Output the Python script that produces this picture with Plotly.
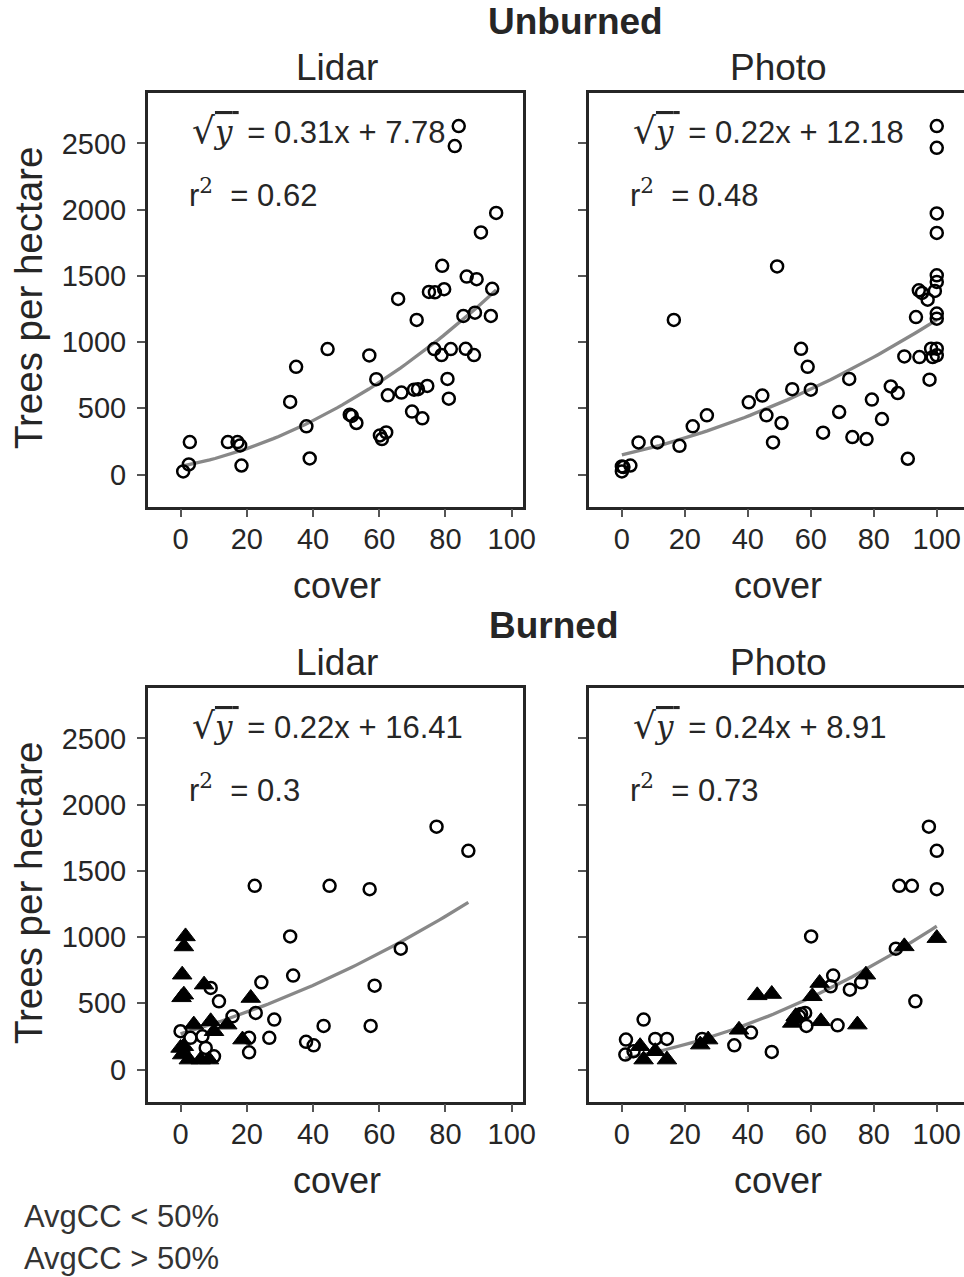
import numpy as np
import plotly.graph_objects as go

# ---------------- data ----------------
# Unburned / Lidar
ul_x = [0.8, 2.5, 2.8, 14.3, 17.2, 18, 18.4, 33.1, 34.9, 38, 39, 44.4, 51.1, 51.7, 53.1, 57, 59.1, 60.2,
        60.8, 62.1, 62.6, 65.7, 66.7, 69.9, 70.5, 71.3, 71.7, 73, 74.5, 75, 76.8, 76.6, 78.8, 79, 79.6,
        80.6, 81, 81.6, 82.8, 84, 85.4, 86.1, 86.4, 88.6, 88.9, 89.4, 90.7, 93.7, 94.1, 95.3]
ul_y = [23, 76, 245, 245, 245, 220, 68, 548, 813, 364, 121, 947, 452, 442, 389, 899, 720, 295,
        268, 318, 598, 1326, 619, 475, 641, 1167, 644, 424, 669, 1379, 1376, 947, 902, 1576, 1399,
        722, 573, 947, 2480, 2631, 1197, 949, 1495, 902, 1222, 1475, 1828, 1197, 1402, 1975]

# Unburned / Photo
up_x = [0, 0, 0.5, 2.7, 5.3, 11.3, 18.3, 16.5, 22.5, 27, 40.3, 44.6, 45.9, 48, 49.3, 50.7, 54.1,
        56.9, 59, 60, 63.9, 69, 72.2, 73.2, 77.7, 79.4, 82.6, 85.4, 87.6, 89.7, 90.8, 93.4, 94.3,
        95.3, 97.1, 94.5, 97.7, 98.2, 98.7, 99.4, 100, 100, 100, 100, 100, 100, 100, 100, 100, 100]
up_y = [23, 61, 56, 68, 242, 242, 217, 1167, 364, 447, 545, 596, 447, 242, 1571, 389, 644,
        949, 813, 641, 316, 472, 722, 283, 268, 566, 419, 665, 615, 892, 119, 1189, 1391,
        1371, 1320, 887, 716, 950, 887, 1386, 950, 2467, 2631, 1971, 1824, 1504, 1454, 1215, 1177, 900]

# Burned / Lidar
bl_lo_x = [77.3, 86.9, 22.4, 45, 57.1, 33.1, 66.5, 34, 24.4, 58.6, 9.1, 11.6, 15.7, 22.7, 28.3,
           43.2, 57.4, 0, 3, 6.6, 7.6, 10.1, 20.7, 26.8, 37.9, 40.2, 20.7]
bl_lo_y = [1834, 1651, 1387, 1387, 1362, 1005, 912, 709, 658, 633, 616, 515, 402, 427, 377,
           329, 329, 289, 239, 251, 163, 100, 239, 239, 209, 183, 130]
bl_hi_x = [1.5, 1.0, 0.5, 1.0, 0.3, 7.1, 21.2, 4.0, 9.1, 10.1, 14.1, 18.7, 0, 0.5, 2.5, 6.1, 8.6, 1.0]
bl_hi_y = [1005, 929, 716, 565, 545, 641, 540, 339, 364, 289, 339, 226, 163, 113, 75, 75, 75, 176]

# Burned / Photo
bp_lo_x = [97.5, 100, 88.1, 92.1, 100, 60.1, 87, 93.2, 67.1, 66.3, 72.4, 76, 56.9, 58.2, 56.3,
           58.6, 68.5, 41, 35.7, 47.6, 25.5, 6.9, 1.3, 1.1, 10.6, 14.3, 3.7]
bp_lo_y = [1834, 1651, 1387, 1387, 1362, 1005, 912, 515, 709, 628, 603, 658, 420, 427, 402,
           329, 334, 279, 183, 133, 231, 377, 226, 113, 231, 231, 138]
bp_hi_x = [100, 89.7, 77.5, 62.8, 60.5, 43, 47.6, 54.1, 63.2, 74.8, 37.2, 27.4, 24.9, 5.8, 6.9,
           14.3, 10.6, 55.2]
bp_hi_y = [992, 930, 716, 653, 553, 560, 570, 352, 364, 339, 300, 226, 188, 176, 75, 75, 138, 402]

# fit coefficients: sqrt(y) = slope*x + intercept
slopes = [0.31, 0.22, 0.22, 0.24]
intercepts = [7.78, 12.18, 16.41, 8.91]
r2_vals = ["0.62", "0.48", "0.3", "0.73"]

x_ticks = [0, 20, 40, 60, 80, 100]
y_ticks = [0, 500, 1000, 1500, 2000, 2500]
row_titles = ["Unburned", "Burned"]
col_titles = ["Lidar", "Photo"]
legend_labels = ["AvgCC < 50%", "AvgCC > 50%"]

# ---------------- layout helpers ----------------
W, H = 964, 1277          # target picture size
FIG_W = 979               # figure width (the page is rendered slightly squeezed horizontally)
FONT = "Liberation Sans, Arial, sans-serif"
SERIF = "DejaVu Serif, serif"
TXT = "#262626"


def px_x(p):
    return p / W


def px_y(p):
    return 1 - p / H


panels = [
    # (xaxis id, yaxis id, x px domain, y px domain, x range)
    ("x", "y", (147.3, 521.7), (92.7, 506.7), [-9.9, 103.5]),
    ("x2", "y2", (587.3, 964.0), (92.7, 506.7), [-10.4, 109.6]),
    ("x3", "y3", (147.3, 521.7), (687.7, 1101.7), [-9.9, 103.5]),
    ("x4", "y4", (587.3, 964.0), (687.7, 1101.7), [-10.4, 109.6]),
]
yrange = [-243, 2883]

series_lo = [(ul_x, ul_y), (up_x, up_y), (bl_lo_x, bl_lo_y), (bp_lo_x, bp_lo_y)]
series_hi = [None, None, (bl_hi_x, bl_hi_y), (bp_hi_x, bp_hi_y)]

fig = go.Figure()

for i, (xa, ya, xdom, ydom, xr) in enumerate(panels):
    lo = series_lo[i]
    hi = series_hi[i]
    allx = list(lo[0]) + (list(hi[0]) if hi else [])
    xs = np.linspace(min(allx), max(allx), 60)
    ys = (slopes[i] * xs + intercepts[i]) ** 2
    fig.add_trace(go.Scatter(x=xs, y=ys, mode="lines", xaxis=xa, yaxis=ya,
                             line=dict(color="#888888", width=3.3), showlegend=False,
                             hoverinfo="skip"))
    fig.add_trace(go.Scatter(x=lo[0], y=lo[1], mode="markers", xaxis=xa, yaxis=ya,
                             name=legend_labels[0], showlegend=False,
                             marker=dict(symbol="circle-open", size=12, color="black",
                                         line=dict(width=2.5, color="black"))))
    if hi:
        fig.add_trace(go.Scatter(x=hi[0], y=hi[1], mode="markers", xaxis=xa, yaxis=ya,
                                 name=legend_labels[1], showlegend=False,
                                 marker=dict(symbol="triangle-up", size=17, color="black",
                                             line=dict(width=1, color="black"))))

axis_common = dict(showline=True, mirror=True, linecolor=TXT, linewidth=2.5,
                   ticks="outside", ticklen=8, tickwidth=2, tickcolor="#555555",
                   showgrid=False, zeroline=False,
                   tickfont=dict(family=FONT, size=29, color=TXT))

layout_axes = {}
for i, (xa, ya, xdom, ydom, xr) in enumerate(panels):
    xkey = "xaxis" if xa == "x" else "xaxis" + xa[1:]
    ykey = "yaxis" if ya == "y" else "yaxis" + ya[1:]
    layout_axes[xkey] = dict(axis_common, domain=[px_x(xdom[0]), min(1.0, px_x(xdom[1]))],
                             anchor=ya, range=xr, tickvals=x_ticks, ticklabelstandoff=-3)
    layout_axes[ykey] = dict(axis_common, domain=[px_y(ydom[1]), px_y(ydom[0])],
                             anchor=xa, range=yrange, tickvals=y_ticks, ticklabelstandoff=5,
                             showticklabels=(i % 2 == 0))

annotations = []


def ann(text, x, y, size, bold=False, xanchor="center", textangle=0, color=TXT):
    annotations.append(dict(text=("<b>%s</b>" % text) if bold else text,
                            x=px_x(x), y=px_y(y), xref="paper", yref="paper",
                            xanchor=xanchor, yanchor="middle", showarrow=False,
                            textangle=textangle,
                            font=dict(family=FONT, size=size, color=color)))


# row / column titles
ann(row_titles[0], 574, 22, 37, bold=True)
ann(row_titles[1], 552, 625, 37, bold=True)
for r, ytitle in enumerate([68, 662]):
    ann(col_titles[0], 336, ytitle, 37)
    ann(col_titles[1], 776, ytitle, 37)
# axis titles
for yc in [585, 1180]:
    ann("cover", 336, yc, 36)
    ann("cover", 776, yc, 36)
for yc in [298, 893]:
    ann("Trees per hectare", 28, yc, 38.5, textangle=-90)

# equations
for i, (xa, ya, xdom, ydom, xr) in enumerate(panels):
    x0 = xdom[0] + 42
    eq = ("<span style='font-family:%s;font-size:36px'>√</span>"
          "<span style='font-family:%s;text-decoration:overline'><i>y</i>\u2009</span>"
          " = %.2fx + %.2f" % (SERIF, SERIF, slopes[i], intercepts[i]))
    ann(eq, x0, ydom[0] + 38, 31, xanchor="left")
    ann("r<span style='font-family:%s'><sup>2</sup></span>  = %s" % (SERIF, r2_vals[i]),
        x0 - 3, ydom[0] + 100, 31, xanchor="left")

# legend labels
ann(legend_labels[0], 22, 1216, 31, xanchor="left", color="#333333")
ann(legend_labels[1], 22, 1258, 31, xanchor="left", color="#333333")

fig.update_layout(width=FIG_W, height=H, margin=dict(l=0, r=0, t=0, b=0),
                  plot_bgcolor="white", paper_bgcolor="white",
                  showlegend=False, annotations=annotations,
                  font=dict(family=FONT, color=TXT), **layout_axes)

fig.write_html("out.html", config={"responsive": False, "displayModeBar": False},
               post_script="document.body.style.margin='0';"
                           "document.documentElement.style.overflow='hidden';")
